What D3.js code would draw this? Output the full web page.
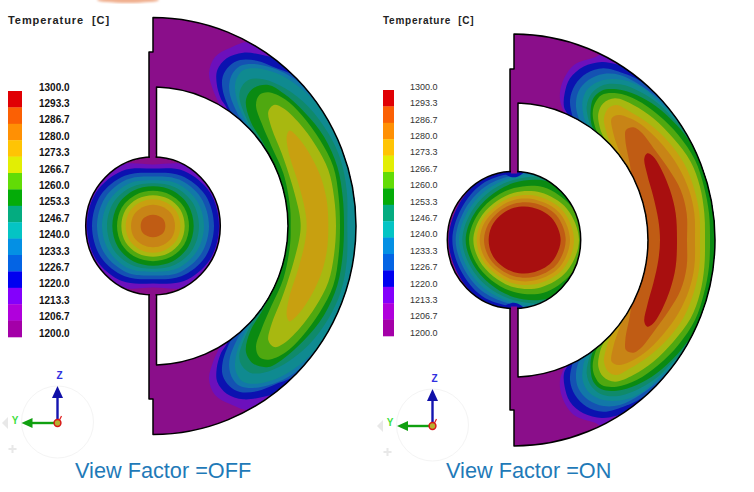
<!DOCTYPE html>
<html><head><meta charset="utf-8">
<script src="https://cdn.jsdelivr.net/npm/d3@7"></script>
<style>html,body{margin:0;padding:0;background:#fff}svg{display:block}text{font-family:"Liberation Sans",Arial,sans-serif}</style>
</head><body><svg id="c" width="754" height="492"></svg>
<script>
// ---- legend -----
const legendLabels = ["1300.0","1293.3","1286.7","1280.0","1273.3","1266.7","1260.0","1253.3","1246.7","1240.0","1233.3","1226.7","1220.0","1213.3","1206.7","1200.0"];
const legendColours = ["#e00004","#fb6004","#ff9004","#ffc404","#e2ee04","#62dc06","#04ac08","#04ac80","#04c4c4","#0490e4","#0464e4","#0000f0","#8400fc","#b000dc","#a400a8"];
// shaded colours on the model, band 1 (1200) .. band 15 (1300)
const bandColours = ["#8a0e8a","#7a10ae","#6c10bc","#0b12b0","#1452b2","#1278a8","#0f8a90","#0f8a6a","#0a8a12","#4fa810","#a8b810","#c8a010","#c88416","#c05c14","#a80f0f"];

// ---- ring contours, upper half, mirrored about the horizontal axis ----
const ringBands = [3,4,5,6,7,8,9,10,11,12];
const leftRing = [
 [[560,558],[500,280],[160,8],[90,24],[45,51],[27,99],[39,150],[60,200],[66,235]],
 [[560,558],[500,300],[260,66],[200,48],[130,38],[80,55],[52,90],[50,130],[62,175],[85,218]],
 [[560,558],[500,320],[290,112],[230,85],[170,62],[120,60],[88,78],[68,110],[68,150],[90,210],[105,232]],
 [[560,558],[500,340],[330,160],[280,115],[220,85],[160,72],[120,78],[98,100],[88,130],[90,165],[115,225],[130,248]],
 [[560,558],[500,370],[350,190],[290,135],[230,100],[170,85],[130,90],[110,115],[105,145],[115,195],[140,250],[160,285]],
 [[442,558],[440,450],[422,360],[385,280],[325,200],[255,145],[190,118],[150,118],[125,140],[118,170],[135,225],[160,275],[190,322],[205,558]],
 [[432,558],[428,470],[412,380],[372,290],[312,215],[250,160],[205,135],[160,145],[138,180],[150,240],[190,310],[230,395],[258,490],[264,558]],
 [[420,558],[416,470],[400,380],[360,300],[305,225],[255,178],[205,157],[178,165],[168,195],[185,250],[215,320],[250,400],[270,500],[272,558]],
 [[408,558],[402,470],[385,390],[348,318],[298,250],[250,205],[222,195],[205,215],[215,265],[245,340],[275,430],[298,520],[302,558]],
 [[385,558],[380,480],[360,405],[325,335],[290,288],[268,272],[260,290],[268,345],[295,430],[315,510],[320,558]]
];
const rightRingBands = [3,4,5,6,7,8,9,10,11,12,13,14,15];
const rightRing = [
 [[560,570],[420,200],[135,10],[105,22],[42,45],[6,100],[0,150],[15,195],[25,240]],
 [[560,570],[420,220],[200,55],[165,42],[125,36],[70,50],[30,85],[14,130],[12,170],[28,208]],
 [[560,570],[440,240],[235,90],[190,70],[130,55],[80,70],[45,105],[30,150],[38,200],[50,225]],
 [[560,570],[470,270],[290,140],[240,105],[180,75],[130,72],[85,90],[55,125],[48,170],[60,215],[75,240]],
 [[560,570],[490,290],[315,170],[250,115],[190,90],[130,90],[85,115],[68,150],[70,195],[85,245]],
 [[560,570],[500,320],[350,215],[300,165],[240,125],[180,103],[130,105],[95,130],[80,170],[90,225],[100,255]],
 [[560,570],[500,350],[415,300],[350,225],[290,170],[230,135],[170,118],[125,122],[100,145],[92,180],[95,225],[115,265]],
 [[450,570],[447,490],[432,410],[405,330],[355,255],[295,195],[230,150],[170,130],[125,135],[105,160],[98,190],[105,230],[125,280],[130,570]],
 [[435,570],[433,490],[420,410],[392,335],[340,265],[280,205],[220,165],[165,145],[130,160],[115,190],[120,235],[145,300],[150,570]],
 [[420,570],[418,490],[402,415],[372,340],[325,275],[265,220],[210,185],[170,165],[145,175],[132,205],[140,250],[165,320],[170,570]],
 [[405,570],[403,490],[387,420],[355,350],[308,285],[252,230],[210,205],[175,195],[155,205],[160,250],[180,310],[200,355],[205,570]],
 [[381,570],[380,490],[362,420],[328,360],[285,300],[242,245],[220,232],[198,240],[196,270],[210,345],[218,400],[240,470],[250,570]],
 [[351,570],[347,490],[330,420],[300,350],[278,318],[262,310],[253,325],[262,375],[280,440],[295,510],[300,570]]
];

// ---- ball contours: radius at each angle, upper half, mirrored ----
const ballAngles = [0,30,60,90,120,150,180];
const leftBallBands = [3,4,5,6,7,8,9,10,11,12,13,14];
const leftBall = [
 [215,215,205,180,205,215,215],
 [198,197,186,168,186,197,198],
 [183,181,170,156,170,181,183],
 [168,166,157,145,157,166,168],
 [153,151,144,134,144,151,153],
 [138,137,131,125,131,137,138],
 [122,122,119,116,119,122,122],
 [108,108,105,103,105,108,108],
 [95,95,92,90,92,95,95],
 [82,82,79,78,79,82,82],
 [66,66,63,62,63,66,66],
 [37,37,34,33,34,37,37]
];
const rightBallBands = [4,5,6,7,8,9,10,11,12,13,14,15];
const rightBall = [
 [320,310,280,215,202,195,196],
 [310,290,245,197,190,183,185],
 [300,275,235,190,178,172,175],
 [290,262,220,184,168,162,165],
 [280,245,210,176,158,152,155],
 [250,225,198,167,147,142,145],
 [225,198,178,152,136,132,135],
 [195,183,160,138,123,120,122],
 [180,170,147,127,113,111,112],
 [168,158,135,117,104,102,103],
 [155,146,124,106,94,90,90],
 [140,130,110,94,83,78,76]
];
// hot-ball cold spots where the web joins
const spotBands = [4,2];
const rightBallSpots = [
 [[-42,225],[-30,196],[0,183],[30,198],[42,225]],
 [[-26,225],[-15,204],[0,198],[17,205],[26,225]]
];

// ---- geometry of the section (px) ----
const sectionLeft  = {cx:153, cy:226, ox:203, oy:208.5, ix:135, iy:139, web0:149, web1:156.5, step0:52, step1:399, ballX:67.3, ballY:69};
const sectionRight = {cx:514, cy:240, ox:201, oy:206,   ix:134, iy:137, web0:510, web1:518,   step0:69, step1:410, ballX:66.7, ballY:68.5};

const svg = d3.select("#c");
const defs = svg.append("defs");
const line = d3.line().curve(d3.curveCatmullRomClosed.alpha(0.5));

function ringPath(s){
  const yOff = Math.sqrt(1-Math.pow((s.web1-s.cx)/s.ix,2))*s.iy;
  return `M${s.cx},${s.cy-s.oy} A${s.ox},${s.oy} 0 0 1 ${s.cx},${s.cy+s.oy}
   L${s.cx},${s.step1} L${s.web0},${s.step1} L${s.web0},${s.step0} L${s.cx},${s.step0} Z
   M${s.web1},${s.cy-yOff} A${s.ix},${s.iy} 0 0 1 ${s.web1},${s.cy+yOff} Z`;
}

function panel(id, s, ringData, ringBandsArr, rx, ry, axisV, ballData, ballBands, spots){
  const g = svg.append("g");
  const rp = ringPath(s);
  defs.append("clipPath").attr("id","ring"+id).append("path").attr("d",rp).attr("clip-rule","evenodd");
  defs.append("clipPath").attr("id","ball"+id).append("ellipse")
     .attr("cx",s.cx).attr("cy",s.cy).attr("rx",s.ballX).attr("ry",s.ballY);

  // ring
  g.append("path").attr("d",rp).attr("fill-rule","evenodd").attr("fill",bandColours[0]);
  const rg = g.append("g").attr("clip-path",`url(#ring${id})`);
  ringData.forEach((pts,i)=>{
    const mirrored = pts.slice().reverse().filter(p=>p[1]!==axisV).map(p=>[p[0],2*axisV-p[1]]);
    const all = pts.concat(mirrored).map(p=>[rx(p[0]),ry(p[1])]);
    rg.append("path").attr("d",line(all)).attr("fill",bandColours[ringBandsArr[i]-1]);
  });
  g.append("path").attr("d",rp).attr("fill","none").attr("stroke","#000").attr("stroke-width",1.5).attr("stroke-linejoin","round");

  // ball
  const bu = d3.scaleLinear().domain([0,3]).range([0,1]);
  const bv = d3.scaleLinear().domain([0,3]).range([0,s.ballY/s.ballX]);
  const bg = g.append("g").attr("clip-path",`url(#ball${id})`);
  bg.append("ellipse").attr("cx",s.cx).attr("cy",s.cy).attr("rx",s.ballX).attr("ry",s.ballY).attr("fill",bandColours[0]);
  const rad = d3.scaleLinear().domain([0,180]).range([0,Math.PI]);
  ballData.forEach((rs,i)=>{
    const pts = [];
    ballAngles.forEach((a,k)=>pts.push([s.cx+bu(rs[k])*Math.cos(rad(a)), s.cy-bv(rs[k])*Math.sin(rad(a))]));
    for(let k=ballAngles.length-2;k>0;k--){const a=ballAngles[k];pts.push([s.cx+bu(rs[k])*Math.cos(rad(a)), s.cy+bv(rs[k])*Math.sin(rad(a))]);}
    bg.append("path").attr("d",line(pts)).attr("fill",bandColours[ballBands[i]-1]);
  });
  if(spots) spots.forEach((sp,i)=>{
    [1,-1].forEach(sign=>{
      const pts = sp.map(p=>[s.cx+bu(p[0]), s.cy-sign*bv(p[1])]);
      bg.append("path").attr("d",line(pts)).attr("fill",bandColours[spotBands[i]-1]);
    });
  });
  g.append("ellipse").attr("cx",s.cx).attr("cy",s.cy).attr("rx",s.ballX).attr("ry",s.ballY)
    .attr("fill","none").attr("stroke","#000").attr("stroke-width",1.5);
  // web runs into the ball with no edge
  [-1,1].forEach(sign=>{
    g.append("rect").attr("x",s.web0+1).attr("width",s.web1-s.web0-2)
     .attr("y",sign<0 ? s.cy-s.ballY-3 : s.cy+s.ballY-2).attr("height",5).attr("fill",bandColours[0]);
  });
}

panel("L", sectionLeft, leftRing, ringBands,
  d3.scaleLinear().domain([0,480]).range([200,360]), d3.scaleLinear().domain([0,570]).range([40,230]), 558,
  leftBall, leftBallBands, null);
panel("R", sectionRight, rightRing, rightRingBands,
  d3.scaleLinear().domain([0,480]).range([560,720]), d3.scaleLinear().domain([0,570]).range([50,240]), 570,
  rightBall, rightBallBands, rightBallSpots);

// ---- legends ----
function legend(x0,x1,top,bottom,labX,labTop,labBottom,size,weight){
  const bands = d3.scaleBand().domain(legendColours).range([top,bottom]);
  const labs = d3.scalePoint().domain(legendLabels).range([labTop,labBottom]);
  svg.append("g").selectAll("rect").data(legendColours).join("rect")
    .attr("x",x0).attr("width",x1-x0).attr("y",d=>bands(d)).attr("height",bands.bandwidth()+0.3).attr("fill",d=>d);
  svg.append("g").selectAll("text").data(legendLabels).join("text")
    .attr("x",labX).attr("y",d=>labs(d)).attr("dy","0.36em").attr("font-size",size).attr("font-weight",weight)
    .attr("fill",weight==="bold"?"#111":"#333").text(d=>d);
}
legend(8,22,91,337,39,87,333,10,"bold");
legend(383,394,90,336,410,86.5,332.5,9,"normal");

// ---- titles ----
const titles = ["Temperature  [C]","Temperature  [C]"];
const captions = ["View Factor =OFF","View Factor =ON"];
svg.append("text").attr("x",8).attr("y",23.5).attr("font-size",11).attr("font-weight","bold").attr("letter-spacing",0.93).attr("fill","#222").style("white-space","pre").text(titles[0]);
svg.append("text").attr("x",383).attr("y",24).attr("font-size",10).attr("font-weight","bold").attr("letter-spacing",0.75).attr("fill","#222").style("white-space","pre").text(titles[1]);
svg.append("text").attr("x",75).attr("y",478).attr("font-size",21.7).attr("fill","#1f7ab8").text(captions[0]);
svg.append("text").attr("x",446).attr("y",478).attr("font-size",21.7).attr("fill","#1f7ab8").text(captions[1]);

// ---- triad ----
function triad(ox,oy,zTop,yEnd,zLabelY,yLabelX,yLabelY,ghostX,ghostY){
  const g = svg.append("g");
  g.append("circle").attr("cx",ox).attr("cy",oy-1).attr("r",36).attr("fill","none").attr("stroke","#f4f4f4").attr("stroke-width",1);
  g.append("path").attr("d",`M${ghostX+6},${ghostY-6} L${ghostX},${ghostY} L${ghostX+6},${ghostY+6} Z`).attr("fill","#e8e8e8");
  g.append("path").attr("d",`M${ghostX+6.5},${ghostY+26} h8 M${ghostX+10.5},${ghostY+22} v8`).attr("stroke","#e8e8e8").attr("stroke-width",2);
  g.append("line").attr("x1",ox).attr("y1",oy).attr("x2",ox).attr("y2",zTop+10).attr("stroke","#1414b0").attr("stroke-width",2.4);
  g.append("path").attr("d",`M${ox},${zTop} L${ox+5.5},${zTop+12} L${ox-5.5},${zTop+12} Z`).attr("fill","#1010a8");
  g.append("line").attr("x1",ox).attr("y1",oy).attr("x2",yEnd+8).attr("y2",oy).attr("stroke","#10a010").attr("stroke-width",2.4);
  g.append("path").attr("d",`M${yEnd},${oy} L${yEnd+11},${oy-5} L${yEnd+11},${oy+5} Z`).attr("fill","#10a010");
  g.append("line").attr("x1",ox+2).attr("y1",oy-3).attr("x2",ox+4).attr("y2",oy-7).attr("stroke","#e02020").attr("stroke-width",1.2);
  g.append("circle").attr("cx",ox).attr("cy",oy).attr("r",3.4).attr("fill","#b8b030").attr("stroke","#d81818").attr("stroke-width",1.5);
  g.append("text").attr("x",ox+2).attr("y",zLabelY).attr("dy","0.36em").attr("text-anchor","middle").attr("font-size",10).attr("font-weight","bold").attr("fill","#3030e0").text("Z");
  g.append("text").attr("x",yLabelX).attr("y",yLabelY).attr("dy","0.36em").attr("text-anchor","middle").attr("font-size",10).attr("font-weight","bold").attr("fill","#40e040").text("Y");
}
triad(57.5,423,386,21.5,375,15,420,2,423);
triad(432.5,426,389,397,378.5,390,422.5,377,426);

// peach smudge at the top edge
defs.append("filter").attr("id","soft").append("feGaussianBlur").attr("stdDeviation",1.2);
svg.append("ellipse").attr("cx",128).attr("cy",0).attr("rx",31).attr("ry",3).attr("fill","#f0b090").attr("filter","url(#soft)");
</script></body></html>
